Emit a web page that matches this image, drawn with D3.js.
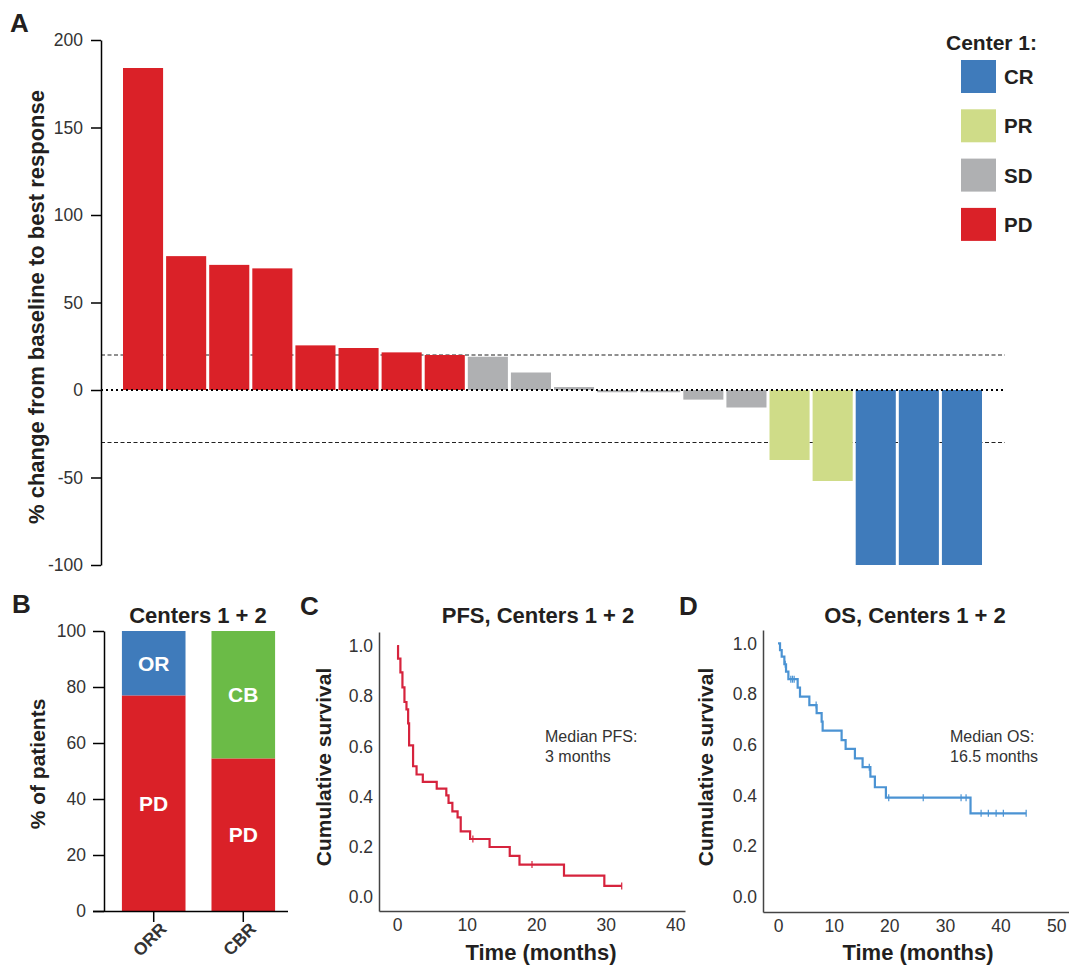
<!DOCTYPE html>
<html>
<head>
<meta charset="utf-8">
<script src="https://cdn.jsdelivr.net/npm/d3@7"></script>
<style>
  body { margin: 0; background: #fff; }
  svg { display: block; font-family: "Liberation Sans", Arial, sans-serif; }
  .tick text { fill: #333; font-size: 17.5px; }
  .bold { font-weight: bold; fill: #231f20; }
</style>
</head>
<body>
<svg id="chart" width="1069" height="965"></svg>
<script>
// panel A - waterfall, center 1
var waterfallValues = [184, 76.5, 71.5, 69.5, 25.5, 24, 21.5, 20,
                       19, 10, 1.7, -1.3, -1.3, -5.5, -10,
                       -40, -52, -100, -100, -100];
var waterfallCats = ["PD","PD","PD","PD","PD","PD","PD","PD",
                     "SD","SD","SD","SD","SD","SD","SD",
                     "PR","PR","CR","CR","CR"];
var legendCats = ["CR", "PR", "SD", "PD"];
var yTicksA = [200, 150, 100, 50, 0, -50, -100];
var refLines = [20, -30];

// panel B - response rates
var rateNames = ["ORR", "CBR"];
var responderLabels = ["OR", "CB"];
var responderPct = [23, 45.5];
var pdPct = [77, 54.5];
var yTicksB = [0, 20, 40, 60, 80, 100];

// panel C - PFS (Kaplan-Meier steps)
var pfsTimes = [0, 0.14, 0.48, 0.77, 1.06, 1.35, 1.59, 1.73, 2.3, 2.8, 3.7, 5.7, 7.08, 7.4, 7.95, 8.7, 9.15, 10.5, 13.3, 16.2, 17.6, 24, 29.8, 32.3];
var pfsSurv  = [1, 0.95, 0.895, 0.835, 0.777, 0.748, 0.692, 0.604, 0.521, 0.488, 0.459, 0.432, 0.405, 0.375, 0.341, 0.317, 0.261, 0.231, 0.199, 0.164, 0.129, 0.085, 0.044, 0.044];
var pfsCensor = [10.9, 19.4, 32.3];

// panel D - OS (Kaplan-Meier steps)
var osTimes = [0, 0.36, 0.66, 1.14, 1.44, 1.86, 3.53, 3.95, 5.63, 6.94, 7.84, 8.02, 11.43, 12.15, 13.82, 15.2, 16.6, 17.41, 19.39, 34.6, 44.6];
var osSurv  = [1, 0.974, 0.948, 0.918, 0.889, 0.859, 0.826, 0.79, 0.757, 0.725, 0.692, 0.656, 0.619, 0.584, 0.547, 0.512, 0.475, 0.433, 0.392, 0.33, 0.33];
var osCensor = [1.3, 2.3, 2.6, 2.9, 6.85, 16.4, 19.9, 26.1, 32.9, 33.8, 36.5, 37.8, 39.2, 40.5, 44.6];

var colors = { CR: "#3f7bbb", PR: "#cfdc88", SD: "#afb0b2", PD: "#da2128" };
var cbGreen = "#6bbb47";
var pfsColor = "#d6233d";
var osColor = "#4b93d3";

var svg = d3.select("#chart");

function panelLetter(txt, x, y) {
  svg.append("text").attr("class", "bold").attr("x", x).attr("y", y)
    .attr("font-size", 26).text(txt);
}

// ---------- A ----------
var xA = d3.scaleBand().domain(d3.range(waterfallValues.length))
    .range([121.5, 983.5]).paddingInner(0.07).paddingOuter(0.035);
var yA = d3.scaleLinear().domain([-100, 200]).range([565, 40]);

panelLetter("A", 10, 32);

var gA = svg.append("g");
gA.selectAll("line.ref").data(refLines).enter().append("line")
    .attr("x1", 101).attr("x2", 1005)
    .attr("y1", function(d) { return yA(d); }).attr("y2", function(d) { return yA(d); })
    .attr("stroke", "#222").attr("stroke-width", 1.1).attr("stroke-dasharray", "4,2.5");

gA.selectAll("rect").data(waterfallValues).enter().append("rect")
    .attr("x", function(d, i) { return xA(i); })
    .attr("width", xA.bandwidth())
    .attr("y", function(d) { return yA(Math.max(0, d)); })
    .attr("height", function(d) { return Math.abs(yA(d) - yA(0)); })
    .attr("fill", function(d, i) { return colors[waterfallCats[i]]; });

gA.append("line").attr("x1", 101).attr("x2", 1005)
    .attr("y1", yA(0)).attr("y2", yA(0))
    .attr("stroke", "#000").attr("stroke-width", 2).attr("stroke-dasharray", "2,3");

var axA = svg.append("g").attr("transform", "translate(101,0)")
    .call(d3.axisLeft(yA).tickValues(yTicksA).tickSize(10).tickSizeOuter(0).tickPadding(8)
      .tickFormat(function(d) { return String(d); }));
axA.select(".domain").attr("stroke-width", 1.5);
axA.selectAll(".tick line").attr("stroke-width", 1.5);

svg.append("text").attr("class", "bold")
    .attr("transform", "translate(44,307) rotate(-90)")
    .attr("text-anchor", "middle").attr("font-size", 22)
    .text("% change from baseline to best response");

// legend
svg.append("text").attr("class", "bold").attr("x", 946).attr("y", 50)
    .attr("font-size", 21).text("Center 1:");
var leg = svg.selectAll("g.leg").data(legendCats).enter().append("g")
    .attr("transform", function(d, i) { return "translate(961," + (60 + i * 49.3) + ")"; });
leg.append("rect").attr("width", 35).attr("height", 33)
    .attr("fill", function(d) { return colors[d]; });
leg.append("text").attr("class", "bold").attr("x", 43).attr("y", 24)
    .attr("font-size", 20.5).text(function(d) { return d; });

// ---------- B ----------
panelLetter("B", 12, 613);
var xB = d3.scaleBand().domain(rateNames).range([104, 293]).paddingInner(0.29).paddingOuter(0.2);
var yB = d3.scaleLinear().domain([0, 100]).range([911, 631]);

var gB = svg.append("g");
gB.selectAll("rect.pd").data(pdPct).enter().append("rect")
    .attr("x", function(d, i) { return xB(rateNames[i]); })
    .attr("width", xB.bandwidth())
    .attr("y", function(d) { return yB(d); })
    .attr("height", function(d) { return yB(0) - yB(d); })
    .attr("fill", colors.PD);
gB.selectAll("rect.resp").data(responderPct).enter().append("rect")
    .attr("x", function(d, i) { return xB(rateNames[i]); })
    .attr("width", xB.bandwidth())
    .attr("y", function(d, i) { return yB(pdPct[i] + d); })
    .attr("height", function(d) { return yB(0) - yB(d); })
    .attr("fill", function(d, i) { return i === 0 ? colors.CR : cbGreen; });

gB.selectAll("text.pd").data(pdPct).enter().append("text")
    .attr("x", function(d, i) { return xB(rateNames[i]) + xB.bandwidth() / 2; })
    .attr("y", function(d) { return yB(d / 2) + 7.5; })
    .attr("text-anchor", "middle").attr("fill", "#fff").attr("font-weight", "bold")
    .attr("font-size", 21).text("PD");
gB.selectAll("text.resp").data(responderPct).enter().append("text")
    .attr("x", function(d, i) { return xB(rateNames[i]) + xB.bandwidth() / 2; })
    .attr("y", function(d, i) { return yB(pdPct[i] + d / 2) + 7.5; })
    .attr("text-anchor", "middle").attr("fill", "#fff").attr("font-weight", "bold")
    .attr("font-size", 21).text(function(d, i) { return responderLabels[i]; });

var axB = svg.append("g").attr("transform", "translate(104,0)")
    .call(d3.axisLeft(yB).tickValues(yTicksB).tickSize(11).tickSizeOuter(0).tickPadding(7));
axB.select(".domain").attr("stroke-width", 1.5);
axB.selectAll(".tick line").attr("stroke-width", 1.5);

var axBx = svg.append("g").attr("transform", "translate(0,911)")
    .call(d3.axisBottom(xB).tickSize(11).tickSizeOuter(0).tickFormat(""));
axBx.select(".domain").attr("d", "M93,0.5H288").attr("stroke-width", 1.5);
axBx.selectAll(".tick line").attr("stroke-width", 1.5);
axBx.selectAll(".tick").append("text")
    .attr("class", "bold").attr("text-anchor", "end")
    .attr("transform", "translate(14,19) rotate(-45)")
    .attr("font-size", 19.5)
    .text(function(d) { return d; });

svg.append("text").attr("class", "bold").attr("x", 198).attr("y", 623)
    .attr("text-anchor", "middle").attr("font-size", 22).text("Centers 1 + 2");
svg.append("text").attr("class", "bold")
    .attr("transform", "translate(45,764) rotate(-90)")
    .attr("text-anchor", "middle").attr("font-size", 21).text("% of patients");

// ---------- KM panels ----------
function survAt(times, surv, t) {
  var s = surv[0];
  for (var i = 0; i < times.length; i++) if (times[i] <= t) s = surv[i];
  return s;
}

function kmPanel(opt) {
  var x = d3.scaleLinear().domain(opt.xDomain).range([opt.left, opt.right]);
  var y = d3.scaleLinear().domain(opt.yDomain).range([opt.bottom, opt.top]);
  var g = svg.append("g");

  var ay = g.append("g").attr("transform", "translate(" + opt.left + ",0)")
      .call(d3.axisLeft(y).tickValues([0, 0.2, 0.4, 0.6, 0.8, 1.0])
        .tickFormat(d3.format(".1f")).tickSize(0).tickPadding(6));
  var ax = g.append("g").attr("transform", "translate(0," + opt.bottom + ")")
      .call(d3.axisBottom(x).tickValues(opt.xTicks).tickSize(0).tickPadding(8));
  ay.select(".domain").attr("stroke", "#444").attr("stroke-width", 1.5);
  ax.select(".domain").attr("stroke", "#444").attr("stroke-width", 1.5);

  var pts = opt.times.map(function(t, i) { return [t, opt.surv[i]]; });
  var line = d3.line().x(function(d) { return x(d[0]); }).y(function(d) { return y(d[1]); })
      .curve(d3.curveStepAfter);
  g.append("path").datum(pts).attr("d", line)
      .attr("fill", "none").attr("stroke", opt.color).attr("stroke-width", 2.2);

  g.selectAll("line.cens").data(opt.censor).enter().append("line")
      .attr("x1", function(d) { return x(d); }).attr("x2", function(d) { return x(d); })
      .attr("y1", function(d) { return y(survAt(opt.times, opt.surv, d)) - 3.5; })
      .attr("y2", function(d) { return y(survAt(opt.times, opt.surv, d)) + 3.5; })
      .attr("stroke", opt.color).attr("stroke-width", 1.2);

  g.append("text").attr("class", "bold").attr("x", opt.titleX).attr("y", 623)
      .attr("text-anchor", "middle").attr("font-size", 22).text(opt.title);
  g.append("text").attr("class", "bold").attr("x", opt.titleX + 3).attr("y", 960)
      .attr("text-anchor", "middle").attr("font-size", 22).text("Time (months)");
  g.append("text").attr("class", "bold")
      .attr("transform", "translate(" + opt.ylabX + ",767) rotate(-90)")
      .attr("text-anchor", "middle").attr("font-size", 21).text("Cumulative survival");
  g.append("text").attr("x", opt.noteX).attr("y", 742).attr("fill", "#333")
      .attr("font-size", 16).text(opt.note[0]);
  g.append("text").attr("x", opt.noteX).attr("y", 762).attr("fill", "#333")
      .attr("font-size", 16).text(opt.note[1]);
}

panelLetter("C", 300, 615);
kmPanel({
  left: 379, right: 685, top: 632, bottom: 911,
  xDomain: [-2.6, 41.4], yDomain: [-0.056, 1.056], xTicks: [0, 10, 20, 30, 40],
  times: pfsTimes, surv: pfsSurv, censor: pfsCensor, color: pfsColor,
  title: "PFS, Centers 1 + 2", titleX: 538, ylabX: 331,
  note: ["Median PFS:", "3 months"], noteX: 545
});

panelLetter("D", 679, 615);
kmPanel({
  left: 763, right: 1069, top: 630, bottom: 912,
  xDomain: [-2.7, 52.3], yDomain: [-0.059, 1.053], xTicks: [0, 10, 20, 30, 40, 50],
  times: osTimes, surv: osSurv, censor: osCensor, color: osColor,
  title: "OS, Centers 1 + 2", titleX: 915, ylabX: 713,
  note: ["Median OS:", "16.5 months"], noteX: 950
});
</script>
</body>
</html>
